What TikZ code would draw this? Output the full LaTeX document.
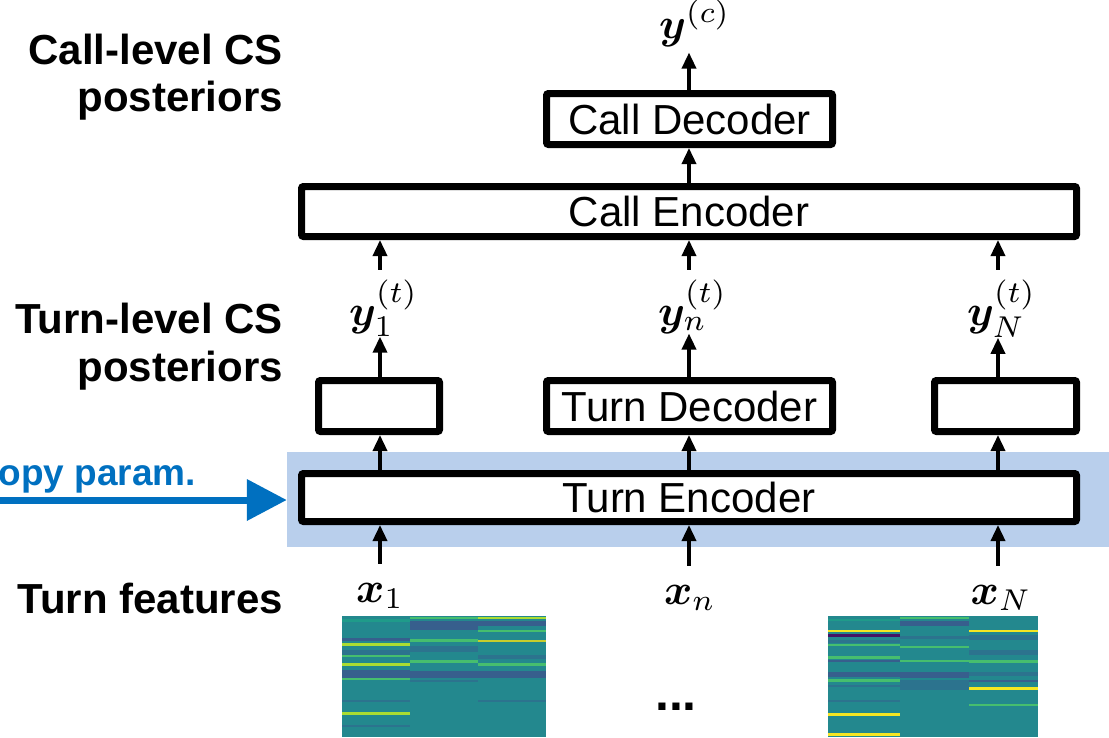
\documentclass[tikz,border=0pt]{standalone}
\usepackage{amsmath}
\usepackage{bm}
\usepackage{graphicx}
\usepackage{fontspec}
\setmainfont{Liberation Sans}
\usetikzlibrary{arrows.meta}
\definecolor{cpblue}{RGB}{0,112,192}
\definecolor{bgblue}{RGB}{185,207,236}
\definecolor{hbase}{RGB}{35,136,142}
\definecolor{hlight}{RGB}{31,155,138}
\definecolor{hdark}{RGB}{55,95,141}
\definecolor{hmid}{RGB}{44,115,142}
\definecolor{hgreen}{RGB}{70,190,110}
\definecolor{hyg}{RGB}{170,220,50}
\definecolor{hyel}{RGB}{245,230,35}
\definecolor{hpurple}{RGB}{68,20,100}
\definecolor{holive}{RGB}{200,205,45}
\newcommand{\hmstripe}[5]{\fill[#5] (#1,#3) rectangle (#2,#4);}
\newcommand{\bigmath}[1]{\scalebox{4.3}{$#1$}}
\tikzset{
  box/.style={draw=black, line width=7pt, rounded corners=2pt, fill=white,
    inner sep=0pt, font=\fontsize{42}{42}\selectfont},
  arr/.style={line width=3.5pt, -{Triangle[width=14pt,length=16pt]}},
  side/.style={anchor=base east, inner sep=0pt, font=\fontsize{42}{42}\selectfont\bfseries},
  mlab/.style={inner sep=0pt, font=\fontsize{10}{12}\selectfont},
}
\begin{document}
\begin{tikzpicture}[x=1pt,y=-1pt]
\useasboundingbox (0,0) rectangle (1109,737);
\clip (0,0) rectangle (1109,737);

% columns
\coordinate (c1) at (380,0);
\coordinate (c2) at (689,0);
\coordinate (c3) at (998,0);

% highlighted background
\node[fill=bgblue, minimum width=822pt, minimum height=95pt, inner sep=0pt] (bg) at (698,499.5) {};

% boxes
\node[box, minimum width=286pt, minimum height=51pt] (cdec) at (689.5,119) {Call Decoder};
\node[box, minimum width=775pt, minimum height=50pt] (cenc) at (689,211.5) {Call Encoder};
\node[box, minimum width=121pt, minimum height=51pt] (tdec1) at (379,406) {};
\node[box, minimum width=286pt, minimum height=51pt] (tdecn) at (689.5,406) {Turn Decoder};
\node[box, minimum width=142pt, minimum height=51pt] (tdecN) at (1005.5,406) {};
\node[box, minimum width=775pt, minimum height=48pt] (tenc) at (689,497.5) {Turn Encoder};

% side labels
\node[side] (l1) at (283,64) {Call-level CS};
\node[side] (l2) at (283,111) {posteriors};
\node[side] (l3) at (283,333) {Turn-level CS};
\node[side] (l4) at (283,381) {posteriors};
\node[side] (l5) at (283,613) {Turn features};

% copy param (cut at the left edge as in the reference)
\node[anchor=base east, inner sep=0pt, text=cpblue,
  font=\fontsize{37}{37}\selectfont\bfseries] (cp) at (196,485) {copy param.};
\coordinate (cpstart) at (-5,500);
\draw[line width=7pt, cpblue, -{Triangle[width=40pt,length=40pt]}] (cpstart) -- (bg.west |- cpstart);

% math labels
\node[mlab, anchor=base west] (ycall) at (659,38) {\bigmath{\bm{y}^{(c)}}};
\node[mlab, anchor=base west] (y1) at (349,325) {\bigmath{\bm{y}_{1}^{(t)}}};
\node[mlab, anchor=base west] (yn) at (658,325) {\bigmath{\bm{y}_{n}^{(t)}}};
\node[mlab, anchor=base west] (yN) at (967,325) {\bigmath{\bm{y}_{N}^{(t)}}};
\node[mlab, anchor=base] (x1) at (380,602) {\bigmath{\bm{x}_{1}}};
\node[mlab, anchor=base] (xn) at (690,604) {\bigmath{\bm{x}_{n}}};
\node[mlab, anchor=base] (xN) at (1001,604) {\bigmath{\bm{x}_{N}}};

% arrows
\foreach \c/\x/\d/\y in {c1/x1/tdec1/y1, c2/xn/tdecn/yn, c3/xN/tdecN/yN}{
  \draw[arr, shorten <=19pt] (\c |- \x.north) -- (\c |- tenc.south);
  \draw[arr] (tenc.north -| \c) -- (\d.south -| \c);
  \draw[arr] (\d.north -| \c) -- (\y.south -| \c);
  \draw[arr, shorten <=10pt] (\c |- \y.north) -- (cenc.south -| \c);
}
\draw[arr] (cenc.north -| c2) -- (cdec.south -| c2);
\draw[arr, shorten >=6pt] (cdec.north -| c2) -- (ycall.south -| c2);

% dots
\node[anchor=base, inner sep=0pt, font=\fontsize{50}{50}\selectfont\bfseries] (dots) at (676,710) {...};

% left heatmap
\fill[hbase] (342,616) rectangle (546,737);
\hmstripe{342}{410}{619}{622}{hlight}
\hmstripe{342}{410}{638}{641}{hdark}
\hmstripe{342}{410}{643}{646}{hyg}
\hmstripe{342}{410}{650}{655}{hmid}
\hmstripe{342}{410}{655}{657}{hgreen}
\hmstripe{342}{410}{663}{666}{hyg}
\hmstripe{342}{410}{670}{678}{hdark}
\hmstripe{342}{410}{678}{680}{hgreen}
\hmstripe{342}{410}{700}{702}{hmid}
\hmstripe{342}{410}{712}{715}{hyg}
\hmstripe{342}{410}{725}{727}{hmid}
\hmstripe{410}{478}{617}{619}{hgreen}
\hmstripe{410}{478}{621}{630}{hdark}
\hmstripe{410}{478}{639}{642}{hgreen}
\hmstripe{410}{478}{646}{652}{hmid}
\hmstripe{410}{478}{660}{663}{hgreen}
\hmstripe{410}{478}{671}{678}{hdark}
\hmstripe{410}{478}{680}{682}{hmid}
\hmstripe{478}{546}{617}{619}{hyg}
\hmstripe{478}{546}{621}{626}{hdark}
\hmstripe{478}{546}{630}{632}{hgreen}
\hmstripe{478}{546}{640}{642}{holive}
\hmstripe{478}{546}{655}{659}{hmid}
\hmstripe{478}{546}{663}{666}{hgreen}
\hmstripe{478}{546}{671}{678}{hdark}
\hmstripe{478}{546}{700}{702}{hmid}

% right heatmap
\fill[hbase] (828,616) rectangle (1038,737);
\hmstripe{828}{900}{619}{621}{hlight}
\hmstripe{828}{900}{630}{632}{hyel}
\hmstripe{828}{900}{634}{637}{hpurple}
\hmstripe{828}{900}{640}{643}{hmid}
\hmstripe{828}{900}{644}{646}{hgreen}
\hmstripe{828}{900}{656}{659}{hgreen}
\hmstripe{828}{900}{660}{662}{hdark}
\hmstripe{828}{900}{672}{677}{hdark}
\hmstripe{828}{900}{679}{682}{hgreen}
\hmstripe{828}{900}{685}{687}{hmid}
\hmstripe{828}{900}{700}{702}{hmid}
\hmstripe{828}{900}{713}{716}{hyel}
\hmstripe{828}{900}{733}{736}{hyel}
\hmstripe{900}{969}{617}{619}{hgreen}
\hmstripe{900}{969}{621}{626}{hdark}
\hmstripe{900}{969}{636}{639}{hmid}
\hmstripe{900}{969}{646}{648}{hgreen}
\hmstripe{900}{969}{660}{662}{hgreen}
\hmstripe{900}{969}{672}{678}{hdark}
\hmstripe{900}{969}{680}{690}{hmid}
\hmstripe{969}{1038}{630}{632}{hyel}
\hmstripe{969}{1038}{635}{640}{hmid}
\hmstripe{969}{1038}{650}{655}{hmid}
\hmstripe{969}{1038}{660}{663}{hgreen}
\hmstripe{969}{1038}{672}{676}{hmid}
\hmstripe{969}{1038}{680}{682}{hdark}
\hmstripe{969}{1038}{687}{690}{hyel}
\hmstripe{969}{1038}{704}{706}{hgreen}
\end{tikzpicture}
\end{document}
